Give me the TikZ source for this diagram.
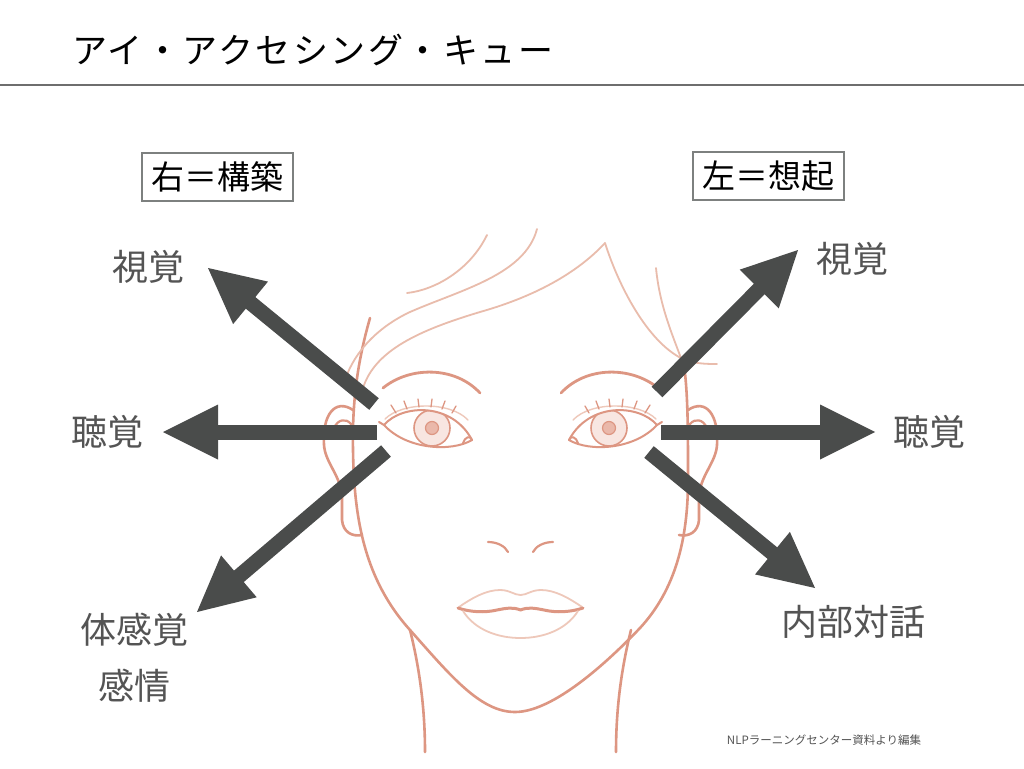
\documentclass[tikz,border=0pt]{standalone}
\usepackage{fontspec}
\newfontfamily\jp{Noto Sans CJK JP}
\newfontfamily\jptitle[LetterSpace=7]{Noto Sans CJK JP}
\usetikzlibrary{calc}
\definecolor{skinline}{RGB}{221,150,130}
\definecolor{hairline}{RGB}{233,188,172}
\definecolor{lipline}{RGB}{238,200,186}
\definecolor{irisfill}{RGB}{248,230,225}
\definecolor{pupilfill}{RGB}{234,184,170}
\definecolor{arrowgray}{RGB}{74,76,75}
\definecolor{labelgray}{RGB}{84,84,84}
\definecolor{rulegray}{RGB}{110,110,110}
\definecolor{boxgray}{RGB}{125,128,127}
\tikzset{
  skin/.style={draw=skinline,line width=2.6pt,line cap=round,line join=round},
  skinthin/.style={draw=skinline,line width=2.2pt,line cap=round},
  hairstroke/.style={draw=hairline,line width=1.8pt,line cap=round},
  lipstroke/.style={draw=lipline,line width=1.8pt,line cap=round},
  mouthstroke/.style={draw=skinline,line width=3pt,line cap=round},
  browstroke/.style={draw=skinline,line width=2.8pt,line cap=round},
  eyeline/.style={draw=skinline,line width=2pt,line cap=round,line join=round},
  eyethin/.style={draw=lipline,line width=1.4pt,line cap=round},
  lash/.style={draw=skinline,line width=1.3pt,line cap=round},
  irisstyle/.style={fill=irisfill,draw=skinline,line width=1.6pt},
  pupilstyle/.style={fill=pupilfill,draw=skinline,line width=1.2pt},
  shaft/.style={draw=arrowgray,line width=15pt},
  headfill/.style={fill=arrowgray},
  sidelabel/.style={text=labelgray,font=\jp\fontsize{36}{40}\selectfont,inner sep=0pt},
  boxlabel/.style={draw=boxgray,line width=1.6pt,text=black,font=\jp\fontsize{33}{36}\selectfont,
    minimum width=151pt,minimum height=48pt,inner sep=0pt},
}
\newcommand\eyearrow[3]{%
  \coordinate (#3) at ($(#2)!55pt!(#1)$);
  \draw[shaft] (#1) -- ($(#2)!50pt!(#1)$);
  \fill[headfill] (#2) -- ($(#3)!27.5pt!90:(#2)$) -- ($(#3)!27.5pt!-90:(#2)$) -- cycle;}
\newcommand\halfface{%
  % ear
  \draw[skin] (353,410) .. controls (335,398) and (322,415) .. (324,445)
    .. controls (325,462) and (340,475) .. (342,495) -- (342,520)
    .. controls (343,532) and (352,537) .. (362,535);
  \draw[skinthin] (334,428) .. controls (338,419) and (346,418) .. (351,424);
  % eyebrow
  \draw[browstroke] (383,388) .. controls (410,366) and (455,366) .. (480,393);
  % eye
  \begin{scope}[shift={(432,428)}]
    \begin{scope}
      \clip (-48,-3) .. controls (-30,-24) and (20,-26) .. (40,12)
        .. controls (20,24) and (-25,22) .. (-48,-3) -- cycle;
      \filldraw[irisstyle] (0,0) circle (18);
      \filldraw[pupilstyle] (0,0) circle (6.5);
    \end{scope}
    \draw[eyeline] (-53,-6) -- (-48,-3) .. controls (-30,-24) and (20,-26) .. (40,12);
    \draw[eyeline] (-48,-3) .. controls (-25,22) and (20,24) .. (40,12);
    \draw[eyeline] (31,15) .. controls (33,9) and (38,7) .. (40,12);
    \draw[eyethin] (-47,-9) .. controls (-30,-26) and (18,-27) .. (36,-8);
    \draw[lash] (-36,-15) .. controls (-38,-19) .. (-41,-23);
    \draw[lash] (-25,-19) .. controls (-26,-23) .. (-28,-27);
    \draw[lash] (-13,-21) .. controls (-13,-25) .. (-14,-29);
    \draw[lash] (-1,-21) .. controls (-1,-25) .. (0,-29);
    \draw[lash] (10,-19) .. controls (11,-23) .. (13,-27);
    \draw[lash] (20,-15) .. controls (22,-19) .. (24,-22);
  \end{scope}
  % nostril
  \draw[skinthin] (488,542) .. controls (497,542) and (505,546) .. (508,552);
  % lips
  \draw[lipstroke] (459,607) .. controls (472,598) and (486,590) .. (500,590)
    .. controls (510,590) and (514,595) .. (520.5,595);
  \draw[mouthstroke] (458,608) .. controls (470,612) and (484,613) .. (497,610)
    .. controls (507,608) and (513,607) .. (520.5,610);
  \draw[lipstroke] (463,611) .. controls (475,630) and (498,638) .. (520.5,638);
  % neck
  \draw[skin] (410,630) .. controls (420,670) and (425,710) .. (425,752);
}
\begin{document}
\begin{tikzpicture}[x=1pt,y=-1pt]
\useasboundingbox (0,0) rectangle (1024,768);
\fill[white] (0,0) rectangle (1024,768);
% title and rule
\node[anchor=west,inner sep=0pt,font=\jptitle\fontsize{35}{40}\selectfont] (title) at (72,50) {アイ・アクセシング・キュー};
\coordinate (ruleL) at (0,85);
\coordinate (ruleR) at (1024,85);
\draw[rulegray,line width=1.5pt] (ruleL) -- (ruleR);
% face
\draw[skin] (370,318) .. controls (358,360) and (352,400) .. (353,450)
  .. controls (354,520) and (365,580) .. (410,630)
  .. controls (450,675) and (480,712) .. (515,712)
  .. controls (550,712) and (600,670) .. (640,628)
  .. controls (675,590) and (688,540) .. (688,480)
  .. controls (688,430) and (688,395) .. (684,365);
\halfface
\begin{scope}[shift={(1041,0)},xscale=-1]
  \halfface
\end{scope}
% hair
\draw[hairstroke] (407,293) .. controls (435,290) and (470,270) .. (487,235);
\draw[hairstroke] (537,229) .. controls (525,275) and (460,290) .. (410,312)
  .. controls (380,326) and (355,350) .. (345,380);
\draw[hairstroke] (605,243) .. controls (580,270) and (540,295) .. (480,312)
  .. controls (420,330) and (375,350) .. (363,388);
\draw[hairstroke] (605,243) .. controls (620,290) and (650,345) .. (685,360)
  .. controls (697,364) and (708,364) .. (717,364);
\draw[hairstroke] (656,268) .. controls (660,310) and (675,340) .. (686,372);
% boxes
\node[boxlabel] (construct) at (217.5,177) {右＝構築};
\node[boxlabel] (recall) at (768.5,176) {左＝想起};
% labels
\node[sidelabel] (visR) at (148,267) {視覚};
\node[sidelabel] (audR) at (107,432) {聴覚};
\node[sidelabel] (kin) at (134,630) {体感覚};
\node[sidelabel] (emo) at (134,686) {感情};
\node[sidelabel] (visL) at (852,259) {視覚};
\node[sidelabel] (audL) at (929,432) {聴覚};
\node[sidelabel] (dialog) at (853,622) {内部対話};
% arrows
\coordinate (luT) at (374,404); \coordinate (luH) at (208,268);
\coordinate (lhT) at (377,432); \coordinate (lhH) at (163,432);
\coordinate (ldT) at (386,451); \coordinate (ldH) at (197,612);
\coordinate (ruT) at (657,392); \coordinate (ruH) at (798,250);
\coordinate (rhT) at (661,432); \coordinate (rhH) at (875,432);
\coordinate (rdT) at (649,452); \coordinate (rdH) at (815,588);
\eyearrow{luT}{luH}{luB}
\eyearrow{lhT}{lhH}{lhB}
\eyearrow{ldT}{ldH}{ldB}
\eyearrow{ruT}{ruH}{ruB}
\eyearrow{rhT}{rhH}{rhB}
\eyearrow{rdT}{rdH}{rdB}
% credit
\node[text=labelgray,font=\jp\fontsize{11.5}{13}\selectfont,inner sep=0pt] (credit) at (824,740) {NLPラーニングセンター資料より編集};
\end{tikzpicture}
\end{document}
